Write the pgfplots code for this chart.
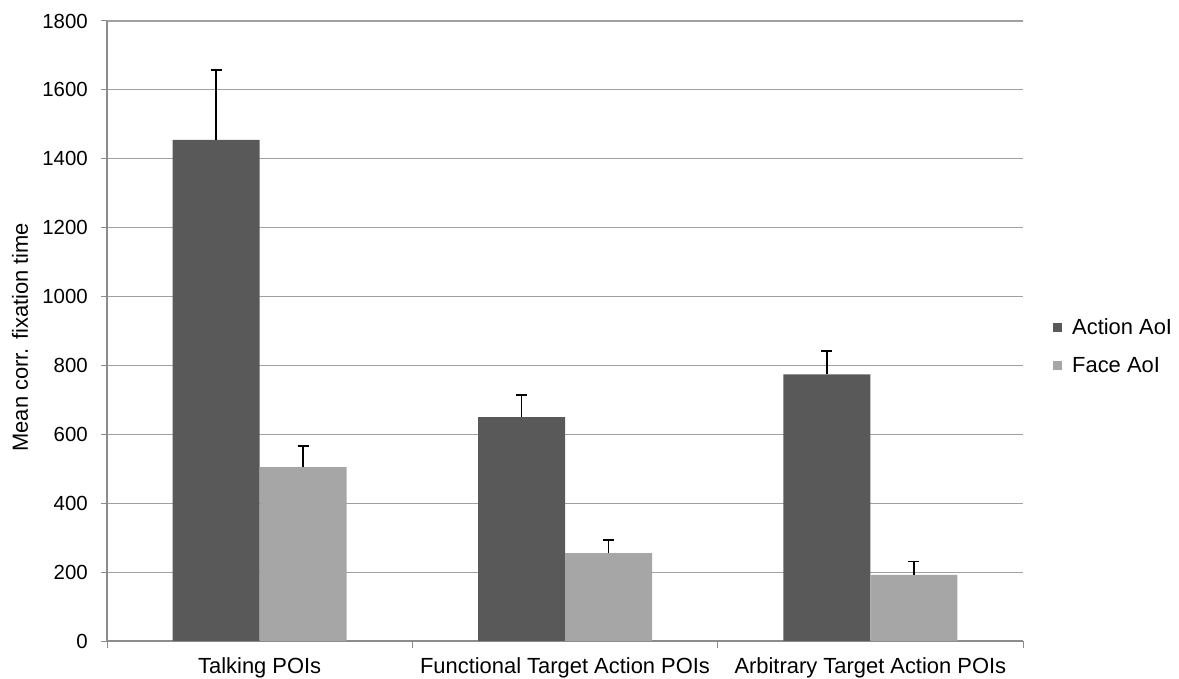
\documentclass[border=0pt]{standalone}
\usepackage{pgfplots}
\pgfplotsset{compat=1.18}
\usepackage{pgfplotstable}
\usepackage{fontspec}
\setmainfont{Liberation Sans}
\definecolor{actc}{HTML}{595959}
\definecolor{facec}{HTML}{A6A6A6}
\definecolor{gridc}{HTML}{A0A0A0}
\definecolor{axc}{HTML}{8C8C8C}
\pgfplotstableread{
x action aerr face ferr
0 1455 203 505 61
1 650 65 255 38
2 774 68 192 39
}\datatable
\pgfplotsset{myerr/.style={
  error bars/y dir=plus, error bars/y explicit,
  error bars/error bar style={line width=1.6bp, black},
  error bars/error mark options={rotate=90, mark size=5.5bp, line width=1.6bp, black}}}
\begin{document}
\begin{tikzpicture}
\useasboundingbox (0,0) rectangle (1179bp,679bp);
\begin{axis}[
  at={(107bp,38bp)}, anchor=south west,
  scale only axis, width=916bp, height=620bp,
  ybar=0pt, bar width=87bp,
  xmin=-0.5, xmax=2.5, ymin=0, ymax=1800,
  ytick={0,200,...,1800},
  xtick={0,1,2},
  xticklabels={Talking POIs, Functional Target Action POIs, Arbitrary Target Action POIs},
  minor xtick={-0.5,0.5,1.5,2.5},
  major x tick style={draw=none},
  minor x tick style={draw=axc, line width=1bp},
  minor tick length=7bp,
  major tick length=6bp,
  ytick style={draw=axc, line width=1bp},
  tick align=outside,
  axis x line*=bottom, axis y line*=left,
  axis line style={draw=axc, line width=1.2bp, -},
  ymajorgrids, grid style={draw=gridc, line width=1.2bp},
  /pgf/number format/assume math mode=true,
  /pgf/number format/1000 sep={},
  yticklabel style={font=\fontsize{20.5}{24}\selectfont, inner sep=0pt, xshift=-13bp},
  xticklabel style={font=\fontsize{22}{26}\selectfont, inner sep=0pt, yshift=-10bp},
  every axis y label/.style={at={(rel axis cs:0,0.49)}, xshift=-87bp, rotate=90, anchor=center, font=\fontsize{22}{26}\selectfont},
  ylabel={Mean corr. fixation time},
  legend style={at={(rel axis cs:1,0.475)}, anchor=west, xshift=30bp, draw=none, fill=none,
    font=\fontsize{22}{26}\selectfont, row sep=19bp, inner sep=0pt,
    nodes={inner sep=1bp}},
  legend cell align=left,
  legend image code/.code={\fill[#1] (0bp,-4.5bp) rectangle (9bp,4.5bp); \path (18bp,0bp);},
]
\addplot[fill=actc, draw=none, myerr] table[x=x, y=action, y error=aerr] {\datatable};
\addplot[fill=facec, draw=none, myerr] table[x=x, y=face, y error=ferr] {\datatable};
\legend{Action AoI, Face AoI}
\end{axis}
\end{tikzpicture}
\end{document}
